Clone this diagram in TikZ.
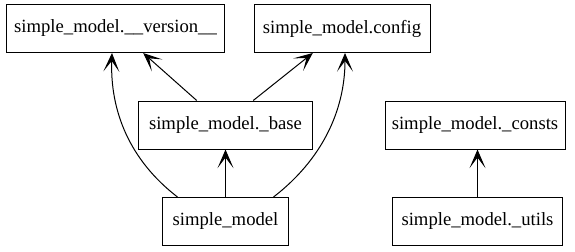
\documentclass[tikz,border=0pt]{standalone}
\usepackage{fontspec}
\setmainfont{Liberation Serif}
\usetikzlibrary{arrows.meta,calc}

\begin{document}
\begin{tikzpicture}[x=0.75pt, y=-0.75pt,
    module/.style={draw, line width=0.75pt, minimum height=36pt, inner sep=0pt,
        font=\fontsize{14}{16}\selectfont},
    dep/.style={line width=0.75pt, -{Stealth[length=14pt, width=12pt, inset=8pt]}}]
    \useasboundingbox (0,0) rectangle (575,251);

    % Modules
    \node[module, minimum width=164pt] (version) at (115.5, 28.5) {simple\_model.\_\_version\_\_};
    \node[module, minimum width=132pt] (config) at (342, 28.5) {simple\_model.config};
    \node[module, minimum width=130pt] (base) at (225.5, 125) {simple\_model.\_base};
    \node[module, minimum width=94pt] (model) at (225.5, 221.5) {simple\_model};
    \node[module, minimum width=135pt] (consts) at (475, 125) {simple\_model.\_consts};
    \node[module, minimum width=128pt] (utils) at (477.5, 221) {simple\_model.\_utils};

    % Imports
    \draw[dep] ($(base.north west)!0.335!(base.north east)$) -- ($(version.south west)!0.626!(version.south east)$);
    \draw[dep] ($(base.north west)!0.659!(base.north east)$) -- ($(config.south west)!0.335!(config.south east)$);
    \draw[dep] (model) -- (base);
    \draw[dep] ($(model.north west)!0.12!(model.north east)$)
        .. controls +(-48,-37) and +(-2,58) .. ($(version.south west)!0.484!(version.south east)$);
    \draw[dep] ($(model.north west)!0.88!(model.north east)$)
        .. controls +(48,-37) and +(0,58) .. ($(config.south west)!0.517!(config.south east)$);
    \draw[dep] (utils.north) -- (consts.south -| utils.north);
\end{tikzpicture}
\end{document}
